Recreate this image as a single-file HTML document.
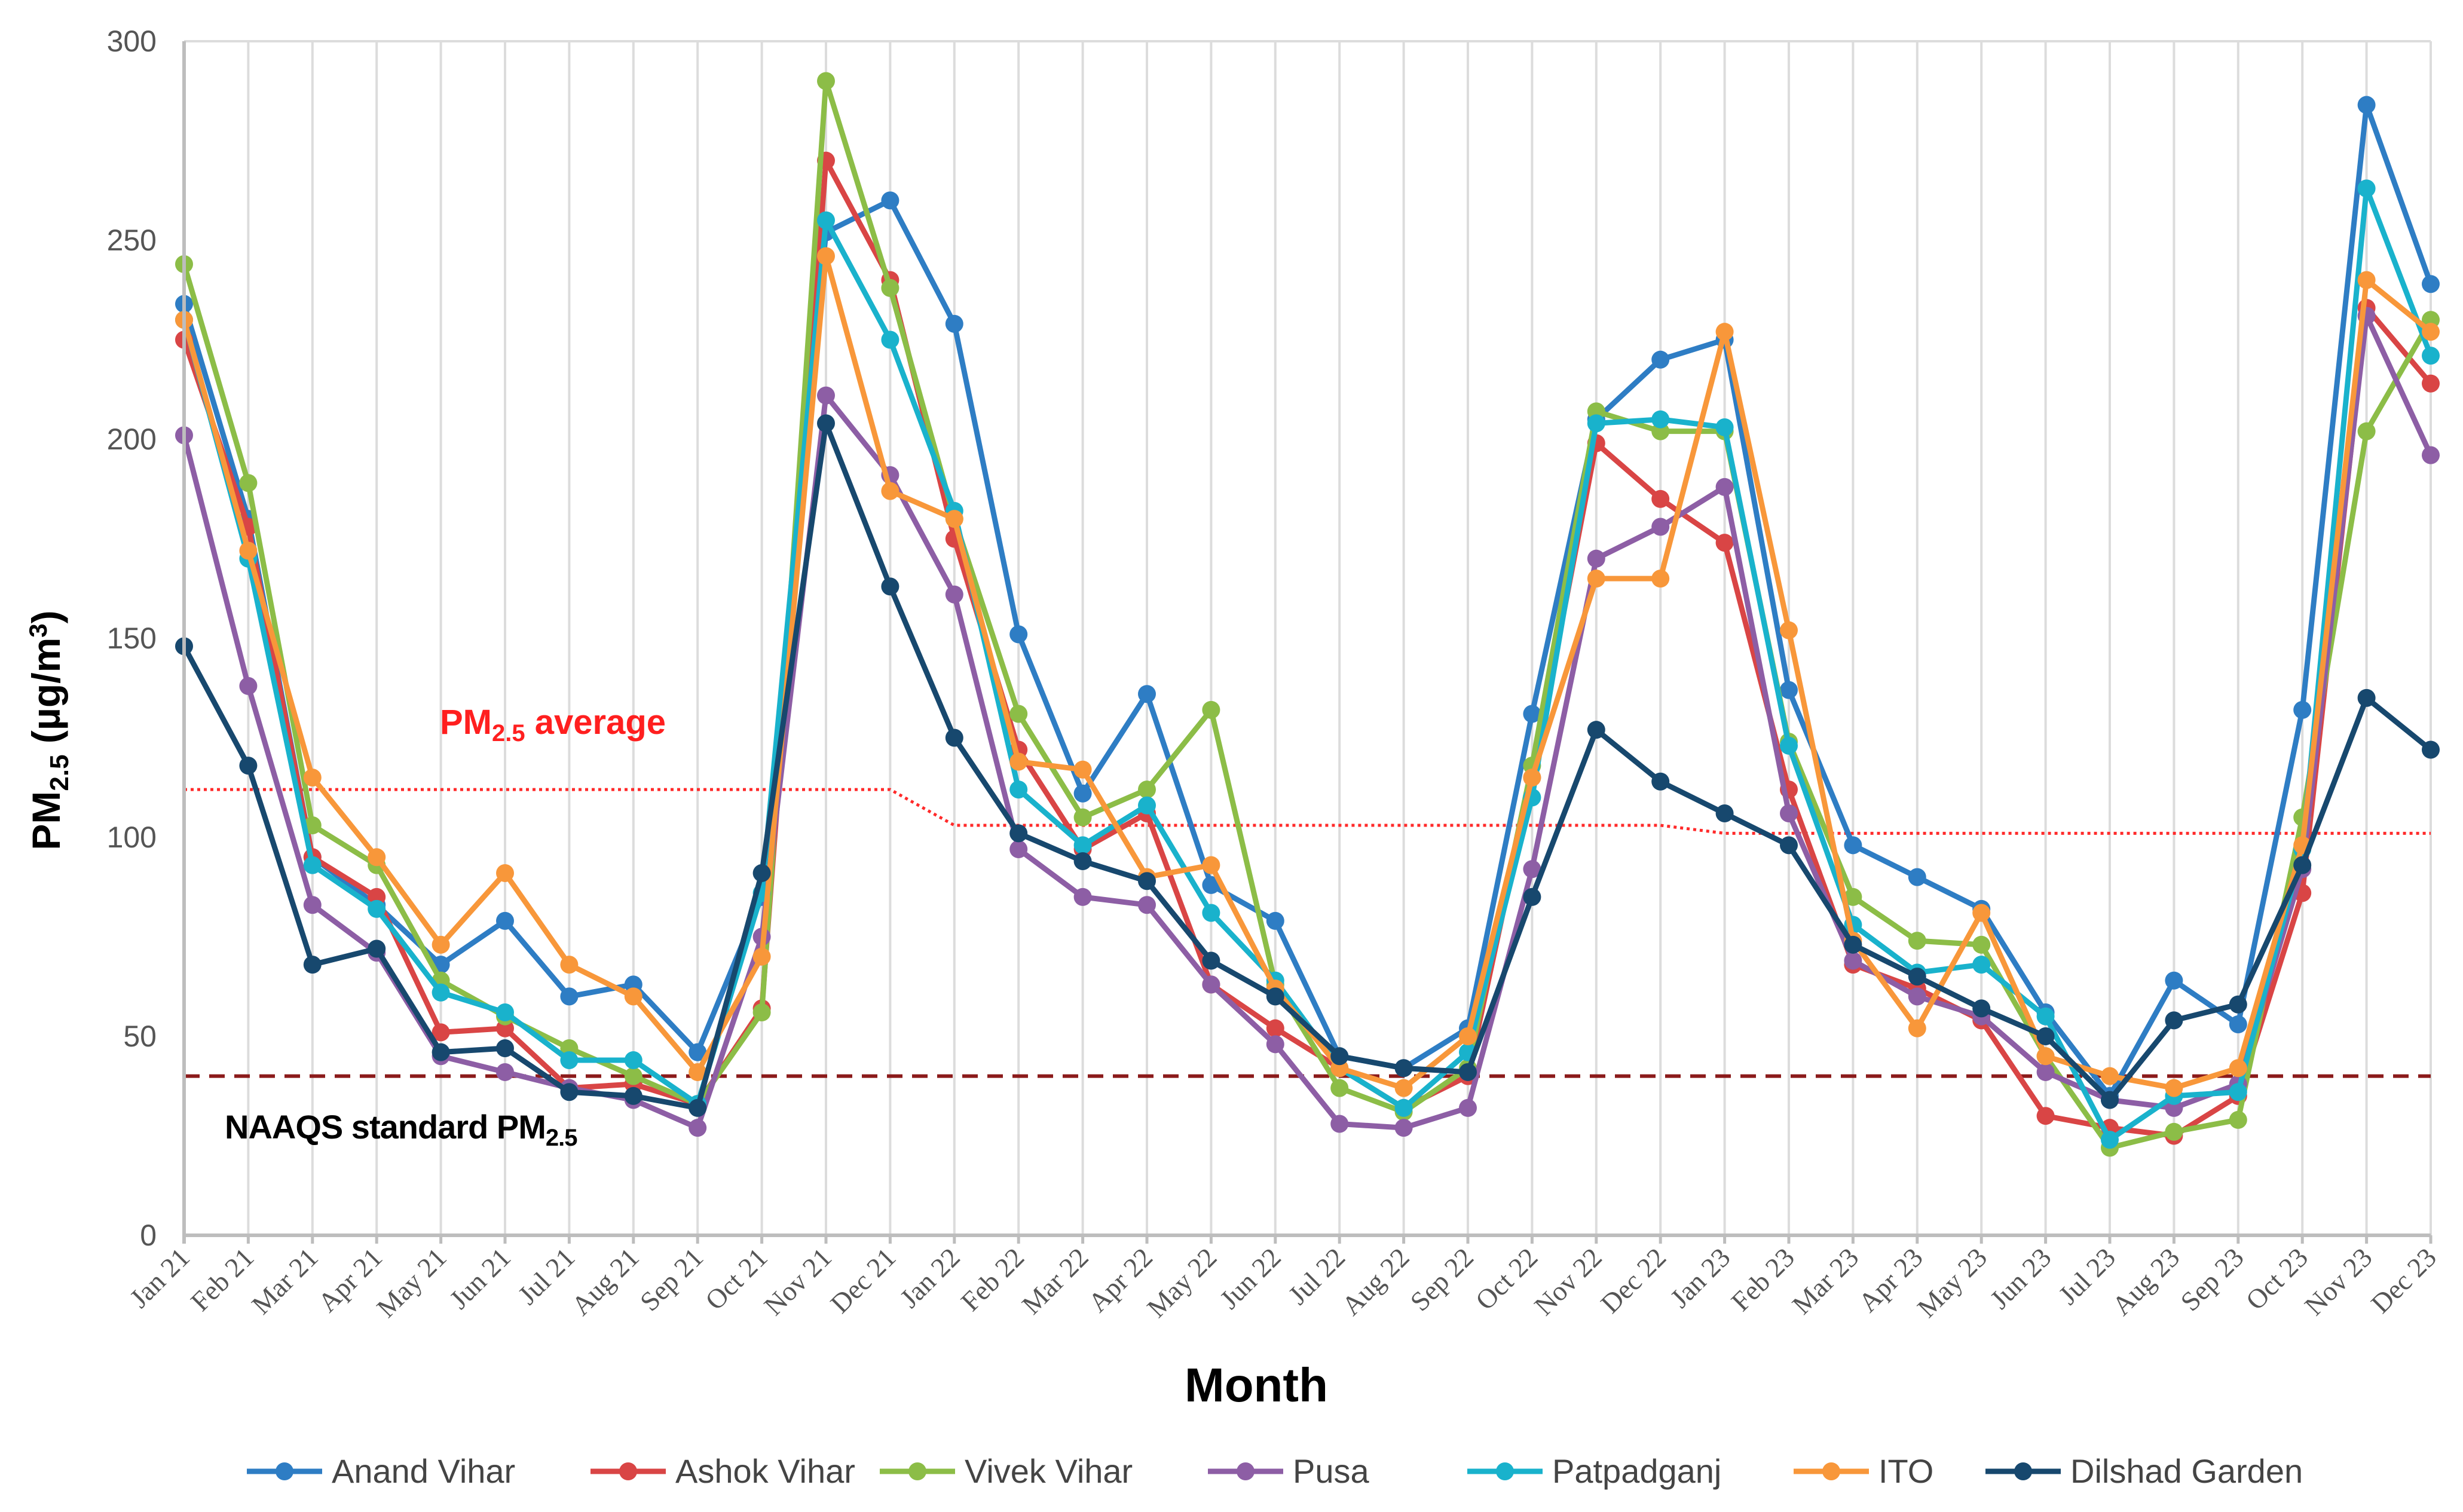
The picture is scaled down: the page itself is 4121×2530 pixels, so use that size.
<!DOCTYPE html>
<html><head><meta charset="utf-8"><style>
html,body{margin:0;padding:0;background:#fff;}
svg{display:block;}
</style></head><body>
<svg id="chart" width="4121" height="2530" viewBox="0 0 4121 2530" xmlns="http://www.w3.org/2000/svg">
<g id="grid"></g>
<g id="refs"></g>
<g id="series"></g>
<g id="axes"></g>
<text x="736" y="1228" font-family="Liberation Sans, sans-serif" font-weight="bold" font-size="58" fill="#ff1f1f">PM<tspan font-size="40" dy="12">2.5</tspan><tspan dy="-12"> average</tspan></text>
<text x="376" y="1905" font-family="Liberation Sans, sans-serif" font-weight="bold" font-size="56" fill="#000" letter-spacing="-1">NAAQS standard PM<tspan font-size="40" dy="12">2.5</tspan></text>
<text transform="translate(100,1222) rotate(-90)" text-anchor="middle" font-family="Liberation Sans, sans-serif" font-weight="bold" font-size="66" fill="#000">PM<tspan font-size="44" dy="14">2.5</tspan><tspan dy="-14"> (µg/m</tspan><tspan font-size="42" dy="-22">3</tspan><tspan dy="22">)</tspan></text>
<text x="2102" y="2345" text-anchor="middle" font-family="Liberation Sans, sans-serif" font-weight="bold" font-size="80" fill="#000">Month</text>
<g id="legend"></g>
</svg>
<script>
const months = ["Jan 21","Feb 21","Mar 21","Apr 21","May 21","Jun 21","Jul 21","Aug 21","Sep 21","Oct 21","Nov 21","Dec 21","Jan 22","Feb 22","Mar 22","Apr 22","May 22","Jun 22","Jul 22","Aug 22","Sep 22","Oct 22","Nov 22","Dec 22","Jan 23","Feb 23","Mar 23","Apr 23","May 23","Jun 23","Jul 23","Aug 23","Sep 23","Oct 23","Nov 23","Dec 23"];
const yTicks = [0,50,100,150,200,250,300];
const seriesNames = ["Anand Vihar","Ashok Vihar","Vivek Vihar","Pusa","Patpadganj","ITO","Dilshad Garden"];
const seriesColors = ["#2e7dc4","#d94545","#8cbd47","#8d5ea5","#19b2cc","#f8973a","#17486e"];
const anandVihar = [234,180,95,83,68,79,60,63,46,85,252,260,229,151,111,136,88,79,45,42,52,131,205,220,225,137,98,90,82,56,35,64,53,132,284,239];
const ashokVihar = [225,178,95,85,51,52,37,38,33,57,270,240,175,122,97,106,63,52,42,32,40,115,199,185,174,112,68,62,54,30,27,25,35,86,233,214];
const vivekVihar = [244,189,103,93,64,55,47,40,33,56,290,238,180,131,105,112,132,63,37,31,42,118,207,202,202,124,85,74,73,45,22,26,29,105,202,230];
const pusa = [201,138,83,71,45,41,37,34,27,75,211,191,161,97,85,83,63,48,28,27,32,92,170,178,188,106,69,60,55,41,34,32,38,92,231,196];
const patpadganj = [230,170,93,82,61,56,44,44,33,86,255,225,182,112,98,108,81,64,42,32,46,110,204,205,203,123,78,66,68,55,24,35,36,97,263,221];
const ito = [230,172,115,95,73,91,68,60,41,70,246,187,180,119,117,90,93,62,42,37,50,115,165,165,227,152,74,52,81,45,40,37,42,98,240,227];
const dilshadGarden = [148,118,68,72,46,47,36,35,32,91,204,163,125,101,94,89,69,60,45,42,41,85,127,114,106,98,73,65,57,50,34,54,58,93,135,122];
const avgIdx = [0,11,12,23,24,35];
const avgVal = [112,112,103,103,101,101];
const naaqsValue = 40;

const NS="http://www.w3.org/2000/svg";
const X0=308,X1=4067,Y0=2067,Y1=69,YMAX=300;
const xs=i=>X0+(X1-X0)*i/(months.length-1);
const ys=v=>Y0-(Y0-Y1)*v/YMAX;
function mk(tag,attrs,parent){const e=document.createElementNS(NS,tag);for(const k in attrs)e.setAttribute(k,attrs[k]);parent.appendChild(e);return e;}
const gridG=document.getElementById('grid'),axesG=document.getElementById('axes'),refsG=document.getElementById('refs'),serG=document.getElementById('series'),legG=document.getElementById('legend');

months.forEach((m,i)=>{
  const x=xs(i);
  if(i>0){const g=mk('line',{x1:x,y1:Y1,x2:x,y2:Y0,stroke:'#dcdcdc','stroke-width':4},gridG);
  
  }
  const t=mk('line',{x1:x,y1:Y0,x2:x,y2:Y0+14,stroke:'#bdbdbd','stroke-width':5},axesG);
  
  
  const lb=mk('text',{transform:`translate(${x+12},${Y0+40}) rotate(-45)`,'text-anchor':'end','font-family':'Liberation Serif, serif','font-size':46,fill:'#555'},axesG);
  lb.textContent=m;
  
  
});
const plotTop=mk('line',{x1:X0,y1:Y1,x2:X1,y2:Y1,stroke:'#dcdcdc','stroke-width':4},gridG);


const ya=mk('line',{x1:X0,y1:Y1,x2:X0,y2:Y0+14,stroke:'#bdbdbd','stroke-width':6},axesG);


const xa=mk('line',{x1:X0,y1:Y0,x2:X1,y2:Y0,stroke:'#bdbdbd','stroke-width':6},axesG);


yTicks.forEach(v=>{
  const t=mk('text',{x:262,y:ys(v)+17,'text-anchor':'end','font-family':'Liberation Sans Narrow, Liberation Sans, sans-serif','font-size':50,fill:'#555'},axesG);
  t.textContent=v;
  
  
});

const avgPts=avgIdx.map((i,k)=>xs(i)+','+ys(avgVal[k])).join(' ');
const avg=mk('polyline',{points:avgPts,fill:'none',stroke:'#ff2a2a','stroke-width':5,'stroke-dasharray':'5 6'},refsG);


const nq=mk('line',{x1:X0,y1:ys(naaqsValue),x2:X1,y2:ys(naaqsValue),stroke:'#8b1a1a','stroke-width':6,'stroke-dasharray':'26 16'},refsG);



const allSeries=[anandVihar,ashokVihar,vivekVihar,pusa,patpadganj,ito,dilshadGarden];
allSeries.forEach((vals,s)=>{
  const g=mk('g',{},serG);
  
  
  const pl=mk('polyline',{points:vals.map((v,i)=>xs(i)+','+ys(v)).join(' '),fill:'none',stroke:seriesColors[s],'stroke-width':9,'stroke-linejoin':'round'},g);
  
  
  vals.forEach((v,i)=>{
    const c=mk('circle',{cx:xs(i),cy:ys(v),r:15,fill:seriesColors[s]},g);
    
    
  });
});

const legX=[555,1130,1614,2163,2597,3143,3464];
seriesNames.forEach((n,s)=>{
  const g=mk('g',{},legG);
  
  
  const x=legX[s],y=2462;
  mk('line',{x1:x-142,y1:y,x2:x-16,y2:y,stroke:seriesColors[s],'stroke-width':9},g);
  mk('circle',{cx:x-79,cy:y,r:15,fill:seriesColors[s]},g);
  const t=mk('text',{x:x,y:y+19,'font-family':'Liberation Sans, sans-serif','font-size':56,fill:'#444'},g);
  t.textContent=n;
});
</script>
</body></html>
